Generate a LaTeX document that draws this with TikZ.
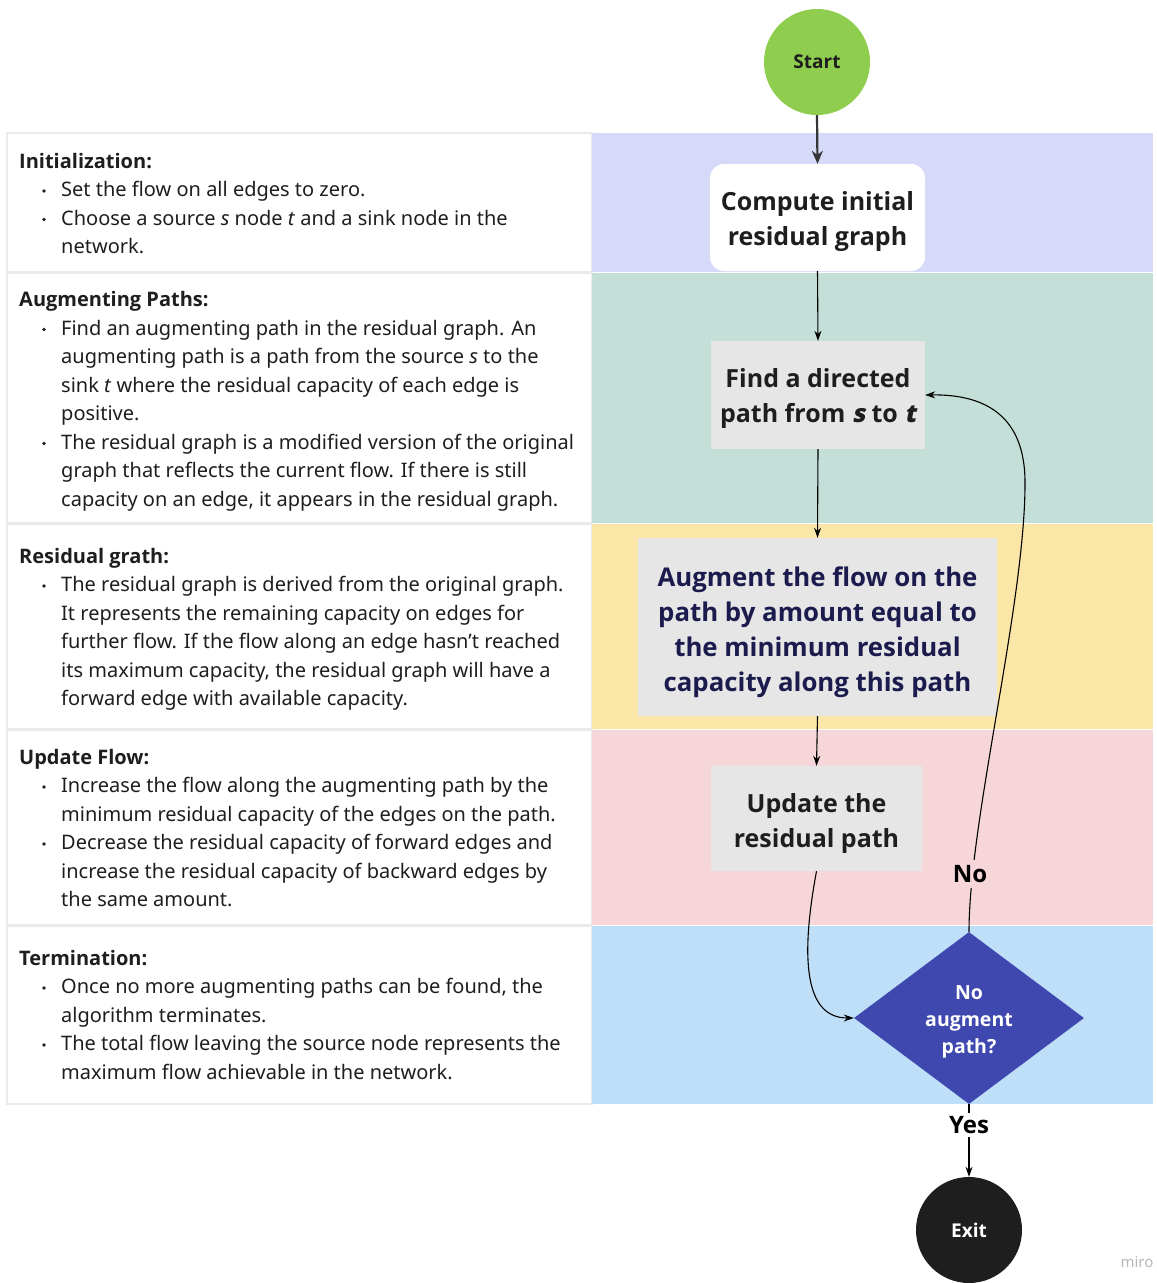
\documentclass[tikz,border=0pt]{standalone}
\usepackage{fontspec}
\IfFontExistsTF{Open Sans Bold}{%
  \setmainfont{Noto Sans}[BoldFont={Open Sans Bold}]%
  \newfontfamily\bif{Open Sans Bold}[FakeSlant=0.2]%
}{%
  \setmainfont{Noto Sans}[BoldFont={Noto Sans}, BoldFeatures={FakeBold=2.5}]%
  \newfontfamily\bif{Noto Sans}[FakeBold=2.5, FakeSlant=0.2]%
}
\usetikzlibrary{shapes.geometric,arrows.meta}
\definecolor{lav}{HTML}{D6DAF8}
\definecolor{mint}{HTML}{C4DFD8}
\definecolor{yel}{HTML}{FAE6A6}
\definecolor{pnk}{HTML}{F6D6D9}
\definecolor{lblue}{HTML}{BFDFF8}
\definecolor{grn}{HTML}{8FCD4E}
\definecolor{dia}{HTML}{3F48AF}
\definecolor{boxgray}{HTML}{E6E6E6}
\definecolor{navy}{HTML}{1B1C4D}
\definecolor{dark}{HTML}{1E1E1E}
\definecolor{edge}{HTML}{EAEAEA}
\begin{document}
\begin{tikzpicture}[x=1pt,y=-1pt,
  txt/.style={anchor=base west, inner sep=0pt, font=\fontsize{20}{24}\selectfont, text=dark},
  hd/.style={txt, font=\fontsize{20}{24}\selectfont\bfseries},
  dot/.style={circle, fill=dark, inner sep=0pt, minimum size=3.6pt},
  lbox/.style={draw=edge, line width=1.5pt, fill=white},
  shp/.style={inner sep=0pt},
  ftxt/.style={align=center, inner sep=0pt, text=dark, font=\fontsize{25}{35}\selectfont\bfseries},
  arr/.style={-{Stealth[length=10pt,width=7pt]}, line width=1.1pt, draw=black},
  lbl/.style={inner sep=5pt, text=black, font=\fontsize{24}{28}\selectfont\bfseries}]
\useasboundingbox (0,0) rectangle (1157,1283);
\fill[white] (0,0) rectangle (1157,1283);
% left boxes
\draw[lbox] (7,133) rectangle (592,272);
\draw[lbox] (7,273) rectangle (592,523);
\draw[lbox] (7,524) rectangle (592,729);
\draw[lbox] (7,730) rectangle (592,925);
\draw[lbox] (7,926) rectangle (592,1104);
% right bands
\fill[lav] (592,133) rectangle (1153,272);
\fill[mint] (592,273) rectangle (1153,523);
\fill[yel] (592,524) rectangle (1153,729);
\fill[pnk] (592,730) rectangle (1153,925);
\fill[lblue] (592,926) rectangle (1153,1104);
% Initialization
\node[hd] (h1) at (19,168) {Initialization:};
\node[dot] (d11) at (44,191) {};
\node[txt] (l11) at (61,196.5) {Set the flow on all edges to zero.};
\node[dot] (d12) at (44,219.5) {};
\node[txt] (l12) at (61,225) {Choose a source \textit{s} node \textit{t} and a sink node in the};
\node[txt] (l13) at (61,253.5) {network.};
% Augmenting Paths
\node[hd] (h2) at (19,306.5) {Augmenting Paths:};
\node[dot] (d21) at (44,329.5) {};
\node[txt] (l21) at (61,335) {Find an augmenting path in the residual graph. An};
\node[txt] (l22) at (61,363.5) {augmenting path is a path from the source \textit{s} to the};
\node[txt] (l23) at (61,392) {sink \textit{t} where the residual capacity of each edge is};
\node[txt] (l24) at (61,420.5) {positive.};
\node[dot] (d22) at (44,443.5) {};
\node[txt] (l25) at (61,449) {The residual graph is a modified version of the original};
\node[txt] (l26) at (61,477.5) {graph that reflects the current flow. If there is still};
\node[txt] (l27) at (61,506) {capacity on an edge, it appears in the residual graph.};
% Residual grath
\node[hd] (h3) at (19,563) {Residual grath:};
\node[dot] (d31) at (44,586) {};
\node[txt] (l31) at (61,591.5) {The residual graph is derived from the original graph.};
\node[txt] (l32) at (61,620) {It represents the remaining capacity on edges for};
\node[txt] (l33) at (61,648.5) {further flow. If the flow along an edge hasn't reached};
\node[txt] (l34) at (61,677) {its maximum capacity, the residual graph will have a};
\node[txt] (l35) at (61,705.5) {forward edge with available capacity.};
% Update Flow
\node[hd] (h4) at (19,764) {Update Flow:};
\node[dot] (d41) at (44,787) {};
\node[txt] (l41) at (61,792.5) {Increase the flow along the augmenting path by the};
\node[txt] (l42) at (61,821) {minimum residual capacity of the edges on the path.};
\node[dot] (d42) at (44,844) {};
\node[txt] (l43) at (61,849.5) {Decrease the residual capacity of forward edges and};
\node[txt] (l44) at (61,878) {increase the residual capacity of backward edges by};
\node[txt] (l45) at (61,906.5) {the same amount.};
% Termination
\node[hd] (h5) at (19,965) {Termination:};
\node[dot] (d51) at (44,988) {};
\node[txt] (l51) at (61,993.5) {Once no more augmenting paths can be found, the};
\node[txt] (l52) at (61,1022) {algorithm terminates.};
\node[dot] (d52) at (44,1045) {};
\node[txt] (l53) at (61,1050.5) {The total flow leaving the source node represents the};
\node[txt] (l54) at (61,1079) {maximum flow achievable in the network.};
% flowchart shapes
\node[circle, fill=grn, minimum size=106pt, inner sep=0pt, text=dark, font=\fontsize{19}{22}\selectfont\bfseries] (start) at (817,62) {Start};
\node[shp, fill=white, rounded corners=14pt, minimum width=215pt, minimum height=107pt] (comp) at (817.5,217.5) {};
\node[shp, fill=boxgray, minimum width=214pt, minimum height=108pt] (find) at (818,395) {};
\node[shp, fill=boxgray, minimum width=359pt, minimum height=178pt] (aug) at (817.5,627) {};
\node[shp, fill=boxgray, minimum width=211pt, minimum height=105pt] (upd) at (816.5,818.5) {};
\node[diamond, fill=dia, minimum width=230pt, minimum height=172pt, inner sep=0pt] (dec) at (969,1018) {};
\node[circle, fill=dark, minimum size=106pt, inner sep=0pt, text=white, font=\fontsize{19}{22}\selectfont\bfseries] (exit) at (969,1230) {Exit};
% flowchart texts
\node[ftxt] (compT) at (817.5,222) {Compute initial\\residual graph};
\node[ftxt] (findT) at (818,398) {Find a directed\\path from {\bif s} to {\bif t}};
\node[ftxt, text=navy, font=\fontsize{25.8}{35}\selectfont\bfseries] (augT) at (817.5,632) {Augment the flow on the\\path by amount equal to\\the minimum residual\\capacity along this path};
\node[ftxt] (updT) at (816.5,823) {Update the\\residual path};
\node[align=center, inner sep=0pt, text=white, font=\fontsize{19.5}{27}\selectfont\bfseries] (decT) at (969,1022) {No\\augment\\path?};
% connectors
\draw[-{Stealth[length=13pt,width=11pt]}, line width=2.2pt, draw=dark!90] (start.south) -- (comp.north);
\draw[arr] (comp.south) -- (find.north);
\draw[arr] (find.south) -- (aug.north);
\draw[arr] (aug.south) -- (upd.north);
\draw[arr] (upd.south) .. controls (800,960) and (805,1018) .. (dec.west);
\draw[arr] (dec.north) .. controls (969,820) and (1026,600) .. (1025,480) .. controls (1024,420) and (990,394) .. (find.east);
\node[lbl, fill=pnk] (no) at (970,874) {No};
\draw[arr] (dec.south) -- (exit.north);
\node[lbl, fill=white, inner sep=3pt] (yes) at (969,1125) {Yes};
\node[text=black!28, inner sep=0pt, font=\fontsize{15}{18}\selectfont] (miro) at (1137,1262) {miro};
\end{tikzpicture}
\end{document}
